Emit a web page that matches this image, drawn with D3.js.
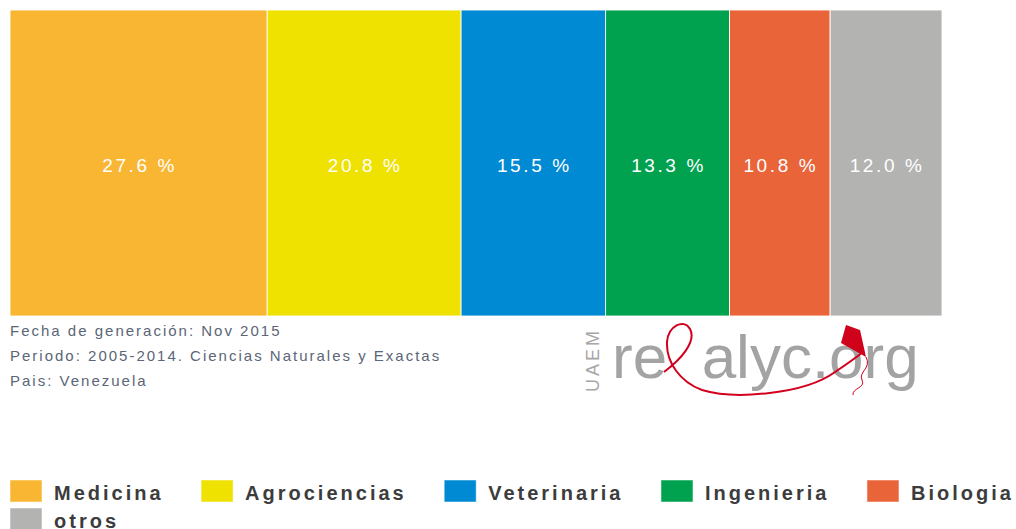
<!DOCTYPE html>
<html>
  <head>
    <meta charset="utf-8">
    <script src="https://cdn.jsdelivr.net/npm/d3@7"></script>
    <style>
      html, body { margin: 0; padding: 0; background: #fff; }
      svg { display: block; font-family: "Liberation Sans", Arial, sans-serif; }
    </style>
  </head>
  <body>
    <svg width="1016" height="529"></svg>
    <script>
      const categories = ["Medicina", "Agrociencias", "Veterinaria", "Ingenieria", "Biologia", "otros"];
      const values = [27.6, 20.8, 15.5, 13.3, 10.8, 12.0];
      const colors = ["#f8b632", "#efe100", "#008ad3", "#00a14f", "#ea643a", "#b3b3b2"];
      const footerLines = [
        "Fecha de generación: Nov 2015",
        "Periodo: 2005-2014. Ciencias Naturales y Exactas",
        "Pais: Venezuela"
      ];

      const svg = d3.select("svg");
      const data = categories.map((c, i) => ({ name: c, value: values[i], color: colors[i] }));

      // acumulado para la barra 100%
      let acc = 0;
      data.forEach(d => { d.x0 = acc; acc += d.value; d.x1 = acc; });

      const x = d3.scaleLinear().domain([0, acc]).range([10, 942]);
      const y = d3.scaleBand().domain(["all"]).range([10, 316]);

      const bars = svg.append("g").attr("class", "bars");
      bars.selectAll("rect")
        .data(data)
        .join("rect")
        .attr("x", d => x(d.x0))
        .attr("y", y("all"))
        .attr("width", d => x(d.x1) - x(d.x0))
        .attr("height", y.bandwidth())
        .attr("fill", d => d.color)
        .attr("stroke", "rgba(255,255,255,0.85)")
        .attr("stroke-width", 1);

      bars.selectAll("text")
        .data(data)
        .join("text")
        .attr("x", d => (x(d.x0) + x(d.x1)) / 2 + 1)
        .attr("y", y("all") + y.bandwidth() / 2 + 9)
        .attr("text-anchor", "middle")
        .attr("fill", "#fff")
        .attr("font-size", 19)
        .attr("letter-spacing", 2.6)
        .text(d => d.value.toFixed(1) + " %");

      // pie de grafico
      svg.append("g")
        .selectAll("text")
        .data(footerLines)
        .join("text")
        .attr("x", 10)
        .attr("y", (d, i) => 336 + i * 25)
        .attr("fill", "#5b6676")
        .attr("font-size", 15)
        .attr("letter-spacing", 2)
        .text(d => d);

      // logo
      const logo = svg.append("g").attr("class", "logo");
      logo.append("text")
        .attr("transform", "translate(599,392) rotate(-90)")
        .attr("fill", "#a6a6a6")
        .attr("font-size", 18)
        .attr("letter-spacing", 3)
        .text("UAEM");
      const word = logo.append("text")
        .attr("x", 612)
        .attr("y", 378)
        .attr("font-size", 62)
        .attr("fill", "#a3a3a3")
        .attr("letter-spacing", 0);
      word.append("tspan").text("re");
      word.append("tspan").attr("fill", "none").text("d");
      word.append("tspan").text("alyc.org");
      // cinta roja
      logo.append("path")
        .attr("d", "M664,372 C680,360 697,342 690,329 C684,318 668,326 667,342 C666,362 680,382 702,390 C735,400 805,394 835,372 C850,362 858,356 863,352")
        .attr("fill", "none")
        .attr("stroke", "#d2001e")
        .attr("stroke-width", 2);
      logo.append("path")
        .attr("d", "M866,357 C872,368 858,372 862,380 C866,388 852,388 853,395")
        .attr("fill", "none")
        .attr("stroke", "#d2001e")
        .attr("stroke-width", 1);
      logo.append("path")
        .attr("d", "M846,325 L860,330 L866,357 L841,343 Z")
        .attr("fill", "#d0021b");

      // leyenda
      const legend = svg.append("g").attr("class", "legend");
      let lx = 10, ly = 480;
      data.forEach(d => {
        const g = legend.append("g");
        const t = g.append("text")
          .attr("font-size", 20)
          .attr("font-weight", "bold")
          .attr("letter-spacing", 3)
          .attr("fill", "#3c3c3c")
          .text(d.name);
        const w = t.node().getComputedTextLength();
        if (lx + 44 + w > 1026) { lx = 10; ly += 28; }
        g.append("rect")
          .attr("x", lx).attr("y", ly)
          .attr("width", 32).attr("height", 22)
          .attr("fill", d.color)
          .attr("stroke", "rgba(255,255,255,0.5)");
        t.attr("x", lx + 44).attr("y", ly + 20);
        lx += 44 + w + 37.5;
      });
    </script>
  </body>
</html>
